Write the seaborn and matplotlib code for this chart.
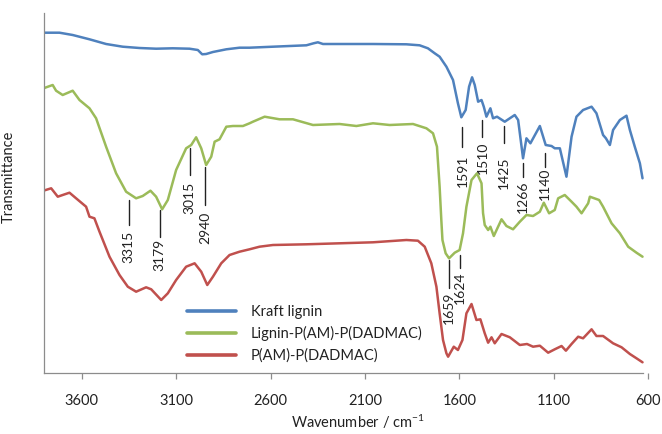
import numpy as np
import pandas as pd
import matplotlib
matplotlib.use("Agg")
import matplotlib.pyplot as plt
import seaborn as sns

# ---- data (wavenumber cm-1, transmittance in arbitrary offset units) ----
kraft_wn = [3803, 3718, 3648, 3559, 3471, 3383, 3294, 3206, 3118, 3029, 2985, 2962, 2941, 2905,
            2834, 2764, 2711, 2587, 2410, 2372, 2349, 2322, 2234, 2057, 1880, 1810, 1766, 1730,
            1704, 1668, 1633, 1607, 1589, 1566, 1548, 1532, 1518, 1500, 1482, 1470, 1456, 1435,
            1421, 1400, 1359, 1306, 1288, 1262, 1244, 1223, 1173, 1142, 1111, 1094, 1067, 1032,
            1005, 979, 944, 899, 873, 838, 823, 802, 785, 749, 714, 696, 670, 643, 629]
kraft_t = [340.3, 340.3, 338, 333.7, 329, 326.3, 325, 324.3, 324.7, 324.3, 323, 318.7, 319, 321,
           323.7, 325.3, 325.3, 326.3, 327.7, 329.7, 330.7, 329, 329, 329, 328.7, 327.7, 324.7, 319.7,
           316.3, 306.3, 293, 269.7, 255.7, 263, 286.3, 295.7, 288, 271.3, 273, 266.3, 256.3, 264.7,
           254.7, 256.3, 251.3, 258, 253, 214.7, 234.7, 229.7, 247, 228, 227, 224.7, 224.7, 196.3,
           236.3, 256.3, 263, 266.3, 259.7, 238, 234.7, 228, 243, 253, 257.3, 243, 226.3, 209.7, 194.7]

lignin_wn = [3803, 3754, 3736, 3701, 3648, 3612, 3559, 3524, 3471, 3418, 3365, 3312, 3277, 3236,
             3206, 3174, 3144, 3100, 3047, 3020, 2994, 2967, 2941, 2914, 2896, 2870, 2834, 2799,
             2746, 2711, 2693, 2631, 2552, 2481, 2375, 2234, 2145, 2057, 1969, 1845, 1774, 1739,
             1718, 1704, 1695, 1689, 1672, 1654, 1624, 1598, 1580, 1562, 1535, 1506, 1482, 1474,
             1465, 1447, 1435, 1417, 1376, 1350, 1315, 1279, 1244, 1209, 1173, 1152, 1124, 1094,
             1076, 1041, 1005, 979, 952, 917, 908, 859, 838, 793, 749, 705, 661, 629]
lignin_t = [284.7, 288, 282.3, 278, 282.3, 273, 264.7, 254.7, 226.3, 199.7, 181.3, 174.7, 177, 182.3,
            176.3, 163.7, 173, 203, 224.7, 228, 235.7, 224.7, 208, 216.3, 231.3, 233.7, 246.3, 247,
            247, 249.7, 251.3, 256.3, 253.7, 253.7, 248, 249, 247, 249.7, 248, 249, 244.7, 239.7,
            226.3, 186.3, 153, 133, 119.7, 114.7, 120.3, 123, 139.7, 166.3, 193, 199.7, 189.7, 160,
            148, 143, 146.3, 137, 153.7, 147, 143.7, 151.3, 158, 157, 161.3, 170.3, 159.7, 163,
            174.7, 178, 171.3, 166.3, 159.7, 169.7, 176.3, 173, 166.3, 149.7, 139.7, 126.3, 120.3, 116.3]

pam_wn = [3803, 3762, 3727, 3701, 3665, 3630, 3577, 3559, 3533, 3506, 3453, 3400, 3356, 3312,
          3259, 3232, 3179, 3144, 3100, 3047, 3002, 2967, 2935, 2905, 2861, 2817, 2764, 2711,
          2658, 2587, 2410, 2234, 2057, 1880, 1819, 1783, 1748, 1721, 1704, 1686, 1668, 1659,
          1629, 1607, 1583, 1562, 1535, 1509, 1488, 1465, 1447, 1429, 1412, 1376, 1332, 1279,
          1241, 1209, 1173, 1129, 1094, 1058, 1035, 1005, 970, 944, 899, 873, 838, 785, 740,
          696, 661, 629]
pam_t = [182.3, 184.7, 176.3, 178, 180.3, 174.7, 166.3, 156.3, 154.7, 141.3, 116.3, 98, 86.3, 81.3,
         85.7, 83.7, 73, 79.7, 93, 106.3, 109.7, 101.3, 88, 96.3, 109.7, 118, 121.3, 123.7,
         126.3, 128, 128.7, 129.7, 130.7, 133, 132.3, 126.3, 109.7, 86.3, 59.7, 33, 19.7, 16.3,
         26.3, 23, 33, 59.7, 69, 53, 53.7, 39.7, 30.3, 35.7, 29.7, 39, 35.7, 28,
         29, 26.3, 27.3, 20.3, 23.7, 27, 22.3, 29, 36.3, 34.7, 43.7, 37, 37, 29.7, 25.7,
         19, 14.7, 10.7]

series_names = ["Kraft lignin", "Lignin-P(AM)-P(DADMAC)", "P(AM)-P(DADMAC)"]
series_colors = ["#4F81BD", "#9BBB59", "#C0504D"]

# peak annotations: label, line position, line top/bottom, text centre
peak_labels = ["3315", "3179", "3015", "2940", "1591", "1510", "1425", "1266", "1140", "1659", "1624"]
peak_wn = [3351, 3188, 3029, 2946, 1583, 1477, 1364, 1262, 1147, 1656, 1597]
peak_line_top = [173, 163, 225, 206, 246, 253, 247, 210, 220, 113, 118]
peak_line_bot = [148, 136, 198, 168, 226, 236, 230, 196, 206, 85, 105]
peak_text_y = [126, 118, 175, 145, 202, 215.5, 200.5, 176, 189.5, 65, 85.5]

xticks = [3600, 3100, 2600, 2100, 1600, 1100, 600]

# ---- build table ----
frames = []
for name, wn, t in zip(series_names, [kraft_wn, lignin_wn, pam_wn], [kraft_t, lignin_t, pam_t]):
    frames.append(pd.DataFrame({"wn": wn, "T": t, "sample": name}))
df = pd.concat(frames, ignore_index=True)

sns.set_style("white")
plt.rcParams["font.family"] = ["Lato", "DejaVu Sans"]
plt.rcParams["mathtext.default"] = "regular"

fig = plt.figure(figsize=(6.62, 4.34), dpi=100)
ax = fig.add_axes([44 / 662, 61 / 434, 604 / 662, 360 / 434])

sns.lineplot(data=df, x="wn", y="T", hue="sample", hue_order=series_names,
             palette=series_colors, estimator=None, sort=False, linewidth=1.8, ax=ax)

ax.set_xlim(3800, 600)
ax.set_ylim(0, 360)
ax.set_xticks(xticks)
ax.set_xticklabels([str(v) for v in xticks])
ax.set_yticks([])

for s in ["top", "right"]:
    ax.spines[s].set_visible(False)
for s in ["left", "bottom"]:
    ax.spines[s].set_color("#8c8c8c")
    ax.spines[s].set_linewidth(0.9)
ax.spines["bottom"].set_bounds(3800, 627)

ax.tick_params(axis="x", direction="out", length=4, width=0.9, color="#8c8c8c",
               pad=11, labelsize=10.5, labelcolor="#222222", bottom=True)

ax.set_xlabel("Wavenumber / cm$^{-1}$", fontsize=10.5, color="#222222")
ax.xaxis.set_label_coords(0.52, -0.11)
ax.set_ylabel("Transmittance", fontsize=10.5, color="#222222")
ax.yaxis.set_label_coords(-0.047, 0.545)

for lab, x, yt, yb, ty in zip(peak_labels, peak_wn, peak_line_top, peak_line_bot, peak_text_y):
    ax.plot([x, x], [yb, yt], color="#222222", linewidth=1.0)
    ax.text(x, ty, lab, rotation=90, ha="center", va="center", fontsize=10, color="#222222")

handles, labels = ax.get_legend_handles_labels()
leg = ax.legend(handles, labels, loc="upper left", bbox_to_anchor=(186.7 / 662, 1 - 305 / 434),
                bbox_transform=fig.transFigure, frameon=False, fontsize=10.5,
                handlelength=3.4, handletextpad=1.0, labelspacing=0.5, borderpad=0,
                borderaxespad=0)
for line in leg.get_lines():
    line.set_linewidth(2.6)
for txt in leg.get_texts():
    txt.set_color("#222222")

fig.savefig("out.png", dpi=100)
